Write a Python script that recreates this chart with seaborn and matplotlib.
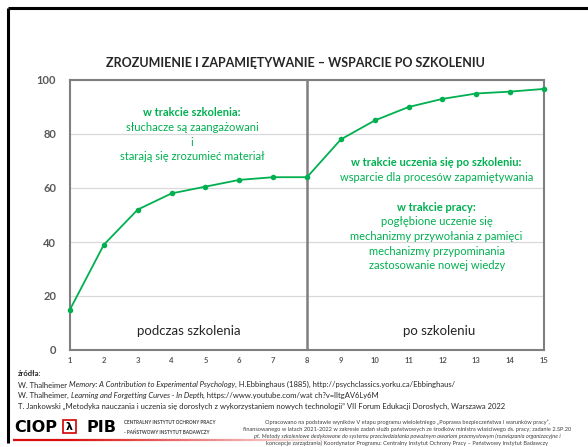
import matplotlib.pyplot as plt
import pandas as pd
import seaborn as sns
import numpy as np
from matplotlib.patches import Rectangle
from matplotlib.collections import LineCollection

# Dane wykresu
etapy = list(range(1, 16))
zapamietywanie = [15, 39, 52, 58, 60.5, 63, 64, 64, 78, 85, 90, 93, 95, 95.7, 96.7]
y_ticks = [0, 20, 40, 60, 80, 100]
tytul = "ZROZUMIENIE I ZAPAMIĘTYWANIE – WSPARCIE PO SZKOLENIU"
okresy = ["podczas szkolenia", "po szkoleniu"]
opis_szkolenie = ["słuchacze są zaangażowani", "i", "starają się zrozumieć materiał"]
opis_po = ["wsparcie dla procesów zapamiętywania"]
opis_praca = ["pogłębione uczenie się", "mechanizmy przywołania z pamięci",
              "mechanizmy przypominania", "zastosowanie nowej wiedzy"]
zrodla = [
    [("W. Thalheimer ", "normal"), ("Memory: A Contribution to Experimental Psychology", "italic"),
     (", H.Ebbinghaus (1885), http://psychclassics.yorku.ca/Ebbinghaus/", "normal")],
    [("W. Thalheimer, ", "normal"), ("Learning and Forgetting Curves - In Depth", "italic"),
     (", https://www.youtube.com/wat ch?v=lItgAV6Ly6M", "normal")],
    [("T. Jankowski „Metodyka nauczania i uczenia się dorosłych z wykorzystaniem nowych technologii” "
      "VII Forum Edukacji Dorosłych, Warszawa 2022", "normal")],
]
stopka = [
    ("Opracowano na podstawie wyników V etapu programu wieloletniego „Poprawa bezpieczeństwa i warunków pracy”,", "normal"),
    ("finansowanego w latach 2021-2022 w zakresie zadań służb państwowych ze środków ministra właściwego ds. pracy; zadanie 2.SP.20", "normal"),
    ("pt. Metody szkoleniowe dedykowane do systemu przeciwdziałania poważnym awariom przemysłowym (rozwiązania organizacyjne i", "italic"),
    ("koncepcje zarządzania) Koordynator Programu: Centralny Instytut Ochrony Pracy – Państwowy Instytut Badawczy", "normal"),
]

ZIELONY = '#00B050'
SZARY = '#7f7f7f'

sns.set_style('white')
plt.rcParams['font.family'] = ['Lato', 'DejaVu Sans']

fig = plt.figure(figsize=(5.88, 4.47), dpi=100)

# tło w pikselach
bg = fig.add_axes([0, 0, 1, 1], zorder=0)
bg.set_xlim(0, 588)
bg.set_ylim(447, 0)
bg.axis('off')

ax = fig.add_axes([70 / 588, 1 - 350 / 447, 474 / 588, 270 / 447], zorder=1)
ax.patch.set_alpha(0)

df = pd.DataFrame({'etap': etapy, 'wartosc': zapamietywanie})
sns.lineplot(data=df, x='etap', y='wartosc', ax=ax, color=ZIELONY, marker='o',
             markersize=4, markeredgewidth=0, linewidth=1.3, clip_on=False, zorder=3)

ax.set_xlim(1, 15)
ax.set_ylim(0, 100)
ax.set_xticks(etapy)
ax.set_yticks(y_ticks)
ax.set_xlabel('')
ax.set_ylabel('')
ax.yaxis.grid(True, color='#d9d9d9', lw=0.9)
ax.set_axisbelow(True)
ax.axvline(8, color=SZARY, lw=1.8, zorder=2)
for s in ax.spines.values():
    s.set_visible(True)
    s.set_color(SZARY)
    s.set_linewidth(1.5)
ax.tick_params(axis='y', length=0, labelsize=8, labelcolor='#595959', pad=10)
ax.tick_params(axis='x', length=0, labelsize=5.5, labelcolor='#595959', pad=5)
for lbl in ax.get_xticklabels() + ax.get_yticklabels():
    lbl.set_fontweight('bold')

# opisy okresów
ax.text(4.5, 7, okresy[0], ha='center', va='center', fontsize=9.5, color='#262626')
ax.text(11.9, 7, okresy[1], ha='center', va='center', fontsize=9.5, color='#262626')

# zielone opisy
ax.text(4.6, 87.8, "w trakcie szkolenia:", ha='center', va='center', fontsize=8,
        color=ZIELONY, weight='bold')
for txt, yy in zip(opis_szkolenie, [82.4, 76.9, 71.5]):
    ax.text(4.6, yy, txt, ha='center', va='center', fontsize=8, color=ZIELONY)

ax.text(11.83, 69.6, "w trakcie uczenia się po szkoleniu:", ha='center', va='center',
        fontsize=8, color=ZIELONY, weight='bold')
ax.text(11.83, 63.9, opis_po[0], ha='center', va='center', fontsize=8, color=ZIELONY)
ax.text(11.83, 52.8, "w trakcie pracy:", ha='center', va='center', fontsize=8,
        color=ZIELONY, weight='bold')
for txt, yy in zip(opis_praca, [47.6, 42.1, 36.5, 31.3]):
    ax.text(11.83, yy, txt, ha='center', va='center', fontsize=8, color=ZIELONY)

# tytuł
bg.text(295, 63, tytul, ha='center', va='center', fontsize=9, weight='bold', color='#262626')

# ramka slajdu
bg.plot([8, 588], [8, 8], color='black', lw=2.2, solid_capstyle='butt')
bg.plot([8, 8], [8, 443], color='black', lw=2.2, solid_capstyle='butt')

# źródła
bg.text(18, 374, "źródła:", fontsize=5.5, weight='bold', va='center', color='#262626')
for linia, yy in zip(zrodla, [385, 395.5, 406]):
    prev = None
    for tekst, styl in linia:
        if prev is None:
            prev = bg.text(18, yy, tekst, fontsize=5.5, style=styl, va='center', color='#262626')
        else:
            prev = bg.annotate(tekst, xy=(1, 0), xycoords=prev, va='bottom', fontsize=5.5,
                               style=styl, color='#262626')

# logo
bg.text(14, 427, "CIOP", fontsize=11.5, weight='heavy', family='DejaVu Sans', va='center',
        color='black')
bg.add_patch(Rectangle((63, 420), 13, 13, fill=False, edgecolor='#d40000', lw=1.2))
bg.text(69.5, 427, "λ", fontsize=8, weight='bold', family='DejaVu Sans', ha='center',
        va='center', color='black')
bg.text(86, 427, "PIB", fontsize=11.5, weight='heavy', family='DejaVu Sans', va='center',
        color='black')
bg.text(124, 423, "CENTRALNY INSTYTUT OCHRONY PRACY", fontsize=3.3, weight='bold',
        va='center', color='#404040')
bg.text(124, 432, "- PAŃSTWOWY INSTYTUT BADAWCZY", fontsize=3.3, weight='bold',
        va='center', color='#404040')

# czerwona linia pod logo
xs = np.linspace(13, 340, 80)
segs = [[(xs[i], 440), (xs[i + 1], 440)] for i in range(len(xs) - 1)]
alphas = np.clip(np.linspace(1.2, 0, len(segs)), 0, 1)
cols = [(0.85, 0.05, 0.05, a) for a in alphas]
bg.add_collection(LineCollection(segs, colors=cols, linewidths=1.6))

for (tekst, styl), yy in zip(stopka, [422, 429, 436, 443]):
    bg.text(407, yy, tekst, ha='center', va='center', fontsize=4.1, style=styl,
            color='#404040')

fig.savefig('out.png', dpi=100)
